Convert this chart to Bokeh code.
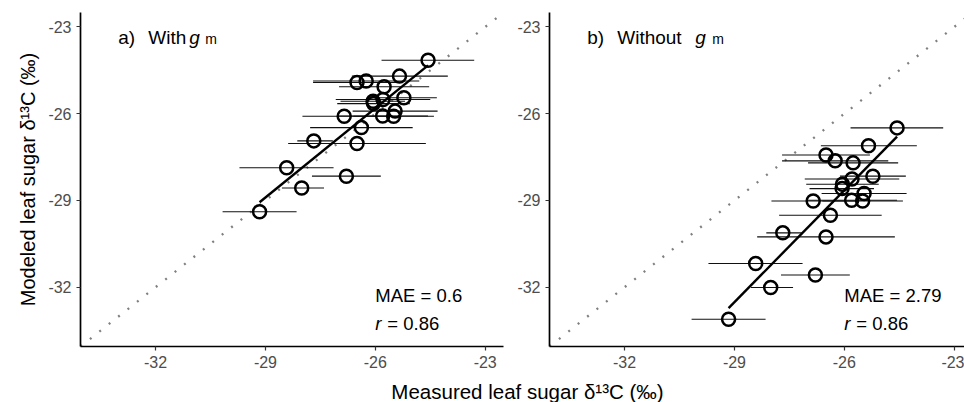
import numpy as np
from bokeh.plotting import figure
from bokeh.layouts import column, row
from bokeh.models import Label, FixedTicker
from bokeh.embed import file_html
from bokeh.resources import INLINE
from bokeh.core.properties import value

# ---------------- data ----------------
measured = [-24.56, -25.34, -26.50, -26.25, -25.76, -25.22, -25.79, -26.05, -26.06, -25.46,
            -25.50, -25.80, -26.85, -26.38, -26.50, -27.68, -28.42, -26.79, -28.01, -29.16]
measured_lo = [-25.83, -26.64, -27.70, -27.70, -26.99, -26.12, -27.08, -27.04, -26.95, -26.62,
               -26.60, -27.02, -27.99, -27.78, -28.38, -28.13, -29.71, -27.73, -28.55, -30.17]
measured_hi = [-23.30, -24.02, -25.30, -24.80, -24.53, -24.32, -24.50, -25.06, -25.19, -24.30,
               -24.40, -24.56, -25.70, -24.98, -24.62, -27.16, -27.14, -25.85, -27.40, -28.15]
modeled_with_gm = [-24.15, -24.70, -24.92, -24.87, -25.07, -25.45, -25.51, -25.65, -25.57, -25.91,
                   -26.09, -26.08, -26.09, -26.48, -27.03, -26.94, -27.87, -28.16, -28.57, -29.39]
modeled_without_gm = [-26.49, -27.11, -27.43, -27.63, -27.70, -28.16, -28.26, -28.44, -28.59, -28.76,
                      -29.02, -28.99, -29.02, -29.51, -30.26, -30.12, -31.18, -31.58, -32.01, -33.11]

tick_values = [-32, -29, -26, -23]
tick_labels = ["-32", "-29", "-26", "-23"]
panel_letters = ["a)", "b)"]
panel_words = ["With", "Without"]
mae_values = ["0.6", "2.79"]
r_values = ["0.86", "0.86"]
x_title = "Measured leaf sugar \u03b4\u00b9\u00b3C (\u2030)"
y_title = "Modeled leaf sugar \u03b4\u00b9\u00b3C (\u2030)"

AX_LO, AX_HI = -34.05, -22.5
FONT = "Liberation Sans"


def lab(p, x, y, text, size, style="normal", x_off=0):
    p.add_layout(Label(x=x, y=y, x_offset=x_off, text=text, text_font=FONT,
                       text_font_size=size, text_font_style=style,
                       text_color="black", text_baseline="alphabetic"))


def make_panel(yvals, letter, word, mae, r, width, x_end, b_left, b_right, ylabel,
               g_off, m_off):
    p = figure(width=width, height=372, x_range=(AX_LO, x_end), y_range=(AX_LO, AX_HI),
               output_backend="svg", toolbar_location=None,
               min_border_left=b_left, min_border_right=b_right,
               min_border_top=12, min_border_bottom=26)
    p.outline_line_color = None
    p.grid.visible = False
    p.background_fill_color = "white"
    p.border_fill_color = "white"

    # 1:1 line
    p.line([AX_LO, AX_HI], [AX_LO, AX_HI], line_color="#808080", line_width=2.3,
           line_dash="2 10")

    # horizontal error bars
    p.segment(x0=measured_lo, y0=yvals, x1=measured_hi, y1=yvals,
              line_color="#111111", line_width=1.1)

    # regression line
    xs = np.array(measured)
    ys = np.array(yvals)
    slope, intercept = np.polyfit(xs, ys, 1)
    fx = np.array([xs.min(), xs.max()])
    p.line(fx, slope * fx + intercept, line_color="black", line_width=2.4)

    # points
    p.scatter(measured, yvals, marker="circle", size=13, fill_alpha=0,
              line_color="black", line_width=2.5)

    for ax in (p.xaxis[0], p.yaxis[0]):
        ax.ticker = FixedTicker(ticks=tick_values)
        ax.major_label_overrides = {v: s for v, s in zip(tick_values, tick_labels)}
        ax.axis_line_color = "black"
        ax.axis_line_width = 1.7
        ax.major_tick_line_color = "#333333"
        ax.major_tick_line_width = 1.2
        ax.major_tick_out = 4
        ax.major_tick_in = 0
        ax.minor_tick_line_color = None
        ax.major_label_text_font = FONT
        ax.major_label_text_font_size = "16px"
        ax.major_label_text_color = "#4d4d4d"
        ax.major_label_standoff = 5
    p.yaxis[0].axis_label = ylabel
    p.yaxis[0].axis_label_text_font = FONT
    p.yaxis[0].axis_label_text_font_size = "20px"
    p.yaxis[0].axis_label_text_font_style = "normal"
    p.yaxis[0].axis_label_text_color = "black"
    p.yaxis[0].axis_label_standoff = 6

    # panel title
    ty = -23.35
    tx = AX_LO + 1.03
    lab(p, tx, ty, letter, "19px")
    lab(p, tx, ty, word, "19px", x_off=30)
    lab(p, tx, ty, "g", "19px", style="italic", x_off=g_off)
    lab(p, tx, ty - 0.07, "m", "14px", x_off=m_off)

    # statistics
    sx = -26.0
    lab(p, sx, -32.29, "MAE = " + mae, "18.5px")
    lab(p, sx, -33.25, "r", "18.5px", style="italic")
    lab(p, sx, -33.25, "= " + r, "18.5px", x_off=12)
    return p


p1 = make_panel(modeled_with_gm, panel_letters[0], panel_words[0], mae_values[0], r_values[0],
                505, AX_HI, 80, 2, y_title, 71, 87)
right_end = AX_LO + 415 * (AX_HI - AX_LO) / 423
p2 = make_panel(modeled_without_gm, panel_letters[1], panel_words[1], mae_values[1], r_values[1],
                459, right_end, 44, 0, "", 108, 125)

p3 = figure(width=964, height=30, x_range=(0, 964), y_range=(0, 30),
            output_backend="svg", toolbar_location=None,
            x_axis_location=None, y_axis_location=None,
            min_border_left=0, min_border_right=0, min_border_top=0, min_border_bottom=0)
p3.outline_line_color = None
p3.grid.visible = False
p3.text(x=[527], y=[11], text=[x_title], text_align="center", text_baseline="alphabetic",
        text_font=value(FONT), text_font_size="20.5px", text_color="black")

layout = column(row(p1, p2, spacing=0), p3, spacing=0)

with open("out.html", "w") as f:
    f.write(file_html(layout, INLINE))
